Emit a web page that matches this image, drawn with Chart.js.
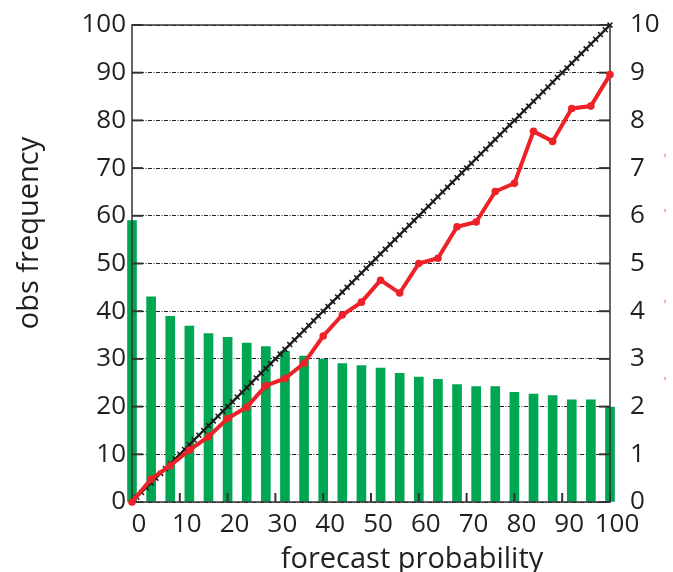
<!DOCTYPE html>
<html>
<head>
<meta charset="utf-8">
<script src="https://cdn.jsdelivr.net/npm/chart.js@4.4.1/dist/chart.umd.min.js"></script>
<style>
  html, body { margin: 0; padding: 0; background: #fff; }
  #wrap { width: 673px; height: 572px; }
</style>
</head>
<body>
<div id="wrap"><canvas id="relChart" width="673" height="572"></canvas></div>
<script>
// forecast probability bins (%)
var probs = [0, 4, 8, 12, 16, 20, 24, 28, 32, 36, 40, 44, 48, 52, 56, 60, 64, 68, 72, 76, 80, 84, 88, 92, 96, 100];
// observed frequency (%) - red line
var obsFreq = [0, 4.8, 7.6, 10.9, 13.7, 17.5, 19.9, 24.4, 25.9, 29.1, 34.8, 39.2, 41.9, 46.5, 43.8, 50.0, 51.1, 57.7, 58.7, 65.1, 66.8, 77.7, 75.6, 82.5, 83.0, 89.6];
// green bars (read on left axis)
var binCounts = [59.0, 43.0, 38.9, 36.9, 35.3, 34.5, 33.3, 32.6, 31.6, 30.6, 29.9, 29.0, 28.6, 28.1, 27.0, 26.2, 25.7, 24.6, 24.2, 24.2, 23.0, 22.6, 22.3, 21.4, 21.4, 19.9];
// perfect reliability diagonal
var diagonal = [0, 1, 2, 3, 4, 5, 6, 7, 8, 9, 10, 11, 12, 13, 14, 15, 16, 17, 18, 19, 20,
  21, 22, 23, 24, 25, 26, 27, 28, 29, 30, 31, 32, 33, 34, 35, 36, 37, 38, 39, 40,
  41, 42, 43, 44, 45, 46, 47, 48, 49, 50, 51, 52, 53, 54, 55, 56, 57, 58, 59, 60,
  61, 62, 63, 64, 65, 66, 67, 68, 69, 70, 71, 72, 73, 74, 75, 76, 77, 78, 79, 80,
  81, 82, 83, 84, 85, 86, 87, 88, 89, 90, 91, 92, 93, 94, 95, 96, 97, 98, 99, 100];
var xTicks = [0, 10, 20, 30, 40, 50, 60, 70, 80, 90, 100];
var leftTicks = [0, 10, 20, 30, 40, 50, 60, 70, 80, 90, 100];
var rightTicks = [0, 1, 2, 3, 4, 5, 6, 7, 8, 9, 10];

var textColor = '#231f20';
var fontFam = '"Open Sans", sans-serif';

function noPad(s) {
  s.paddingTop = 0; s.paddingBottom = 0; s.paddingLeft = 0; s.paddingRight = 0;
}

var framePlugin = {
  id: 'frame',
  afterDatasetDraw: function(chart, args) {
    if (args.index !== 0) return;
    var ctx = chart.ctx, a = chart.chartArea;
    ctx.save();
    ctx.strokeStyle = '#333';
    ctx.lineWidth = 1.5;
    ctx.strokeRect(a.left, a.top, a.right - a.left, a.bottom - a.top);
    // inward ticks
    ctx.lineWidth = 2;
    var sy = chart.scales.y, sy2 = chart.scales.y2, sx = chart.scales.x;
    leftTicks.forEach(function(v) {
      var p = sy.getPixelForValue(v);
      ctx.beginPath(); ctx.moveTo(a.left, p); ctx.lineTo(a.left + 11, p); ctx.stroke();
    });
    rightTicks.forEach(function(v) {
      var p = sy2.getPixelForValue(v);
      ctx.beginPath(); ctx.moveTo(a.right, p); ctx.lineTo(a.right - 11, p); ctx.stroke();
    });
    xTicks.forEach(function(v) {
      var p = sx.getPixelForValue(v);
      ctx.beginPath(); ctx.moveTo(p, a.bottom); ctx.lineTo(p, a.bottom - 9); ctx.stroke();
    });
    ctx.restore();
  },
  afterDraw: function(chart) {
    var ctx = chart.ctx;
    ctx.save();
    ctx.fillStyle = textColor;
    ctx.font = '29px ' + fontFam;
    ctx.textAlign = 'center';
    ctx.textBaseline = 'alphabetic';
    ctx.fillText('forecast probability', 412, 568);
    ctx.translate(38, 233);
    ctx.rotate(-Math.PI / 2);
    ctx.fillText('obs frequency', 0, 0);
    ctx.restore();
    // stray red marks at right edge
    ctx.save();
    ctx.fillStyle = '#e8462f';
    ctx.font = '12px ' + fontFam;
    ctx.textAlign = 'center';
    [157, 212, 303, 380].forEach(function(y) { ctx.fillText("'", 665, y + 6); });
    ctx.restore();
  }
};

var ctx = document.getElementById('relChart').getContext('2d');
var relChart = new Chart(ctx, {
  type: 'bar',
  data: {
    datasets: [{
      type: 'bar',
      label: 'count',
      data: probs.map(function(p, i) { return { x: p, y: binCounts[i] }; }),
      backgroundColor: 'rgb(0, 166, 81)',
      borderWidth: 0,
      barThickness: 9,
      clip: false,
      order: 3
    }, {
      type: 'line',
      label: 'perfect',
      data: diagonal.map(function(v) { return { x: v, y: v }; }),
      borderColor: '#333',
      borderWidth: 2.5,
      pointStyle: 'crossRot',
      pointRadius: 3.5,
      pointBorderWidth: 1.5,
      pointBorderColor: '#1a1a1a',
      clip: false,
      order: 2
    }, {
      type: 'line',
      label: 'obs',
      data: probs.map(function(p, i) { return { x: p, y: obsFreq[i] }; }),
      borderColor: 'rgb(237, 34, 40)',
      backgroundColor: 'rgb(237, 34, 40)',
      borderWidth: 4,
      pointRadius: 3.8,
      pointBorderWidth: 0,
      clip: false,
      order: 1
    }]
  },
  options: {
    responsive: false,
    animation: false,
    layout: { padding: { top: 25, bottom: 0, left: 0, right: 0 } },
    plugins: { legend: { display: false }, tooltip: { enabled: false } },
    scales: {
      x: {
        type: 'linear',
        min: 0, max: 100,
        offset: false,
        border: { display: false },
        grid: { display: false, drawTicks: false },
        ticks: {
          stepSize: 10, color: textColor, padding: 7, labelOffset: 7,
          maxRotation: 0, autoSkip: false,
          font: { family: fontFam, size: 26 }
        },
        afterFit: function(s) { s.height = 70; noPad(s); }
      },
      y: {
        position: 'left',
        min: 0, max: 100,
        border: { display: false, dash: [4, 1.5, 1, 1.5] },
        grid: {
          color: '#222', lineWidth: 1,
          drawTicks: false
        },
        ticks: {
          stepSize: 10, color: textColor, padding: 6,
          font: { family: fontFam, size: 26 }
        },
        afterFit: function(s) { s.width = 132; noPad(s); }
      },
      y2: {
        position: 'right',
        min: 0, max: 10,
        border: { display: false },
        grid: { drawOnChartArea: false, drawTicks: false },
        ticks: {
          stepSize: 1, color: textColor, padding: 20,
          font: { family: fontFam, size: 26 }
        },
        afterFit: function(s) { s.width = 63; noPad(s); }
      }
    }
  },
  plugins: [framePlugin]
});
</script>
</body>
</html>
